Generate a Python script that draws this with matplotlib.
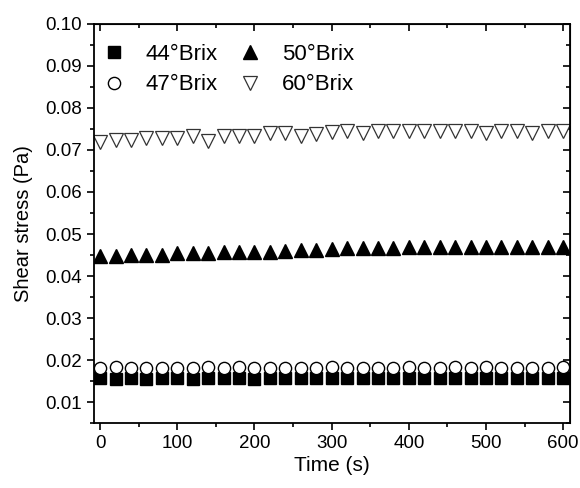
import numpy as np
import matplotlib
matplotlib.use("Agg")
import matplotlib.pyplot as plt
from matplotlib.ticker import MultipleLocator

plt.rcParams['font.family'] = ['Liberation Sans', 'DejaVu Sans']

# time points (s)
time = list(range(0, 601, 20))

# shear stress (Pa) per concentration
brix44 = [0.0157, 0.0156, 0.0157, 0.0156, 0.0157, 0.0157, 0.0156, 0.0158, 0.0157, 0.0157,
          0.0156, 0.0157, 0.0158, 0.0157, 0.0157, 0.0158, 0.0157, 0.0157, 0.0158, 0.0157,
          0.0158, 0.0157, 0.0157, 0.0158, 0.0157, 0.0158, 0.0157, 0.0157, 0.0158, 0.0158,
          0.0157]
brix47 = [0.0181, 0.0183, 0.0181, 0.0181, 0.0181, 0.0182, 0.0181, 0.0183, 0.0181, 0.0183,
          0.0181, 0.0181, 0.0182, 0.0181, 0.0182, 0.0183, 0.0181, 0.0181, 0.0182, 0.0181,
          0.0183, 0.0181, 0.0181, 0.0183, 0.0181, 0.0183, 0.0182, 0.0181, 0.0182, 0.0182,
          0.0183]
brix50 = [0.0448, 0.0448, 0.0450, 0.0450, 0.0451, 0.0454, 0.0454, 0.0454, 0.0458, 0.0458,
          0.0458, 0.0458, 0.0459, 0.0462, 0.0462, 0.0464, 0.0466, 0.0466, 0.0467, 0.0467,
          0.0469, 0.0469, 0.0469, 0.0470, 0.0470, 0.0470, 0.0470, 0.0470, 0.0470, 0.0470,
          0.0470]
brix60 = [0.0719, 0.0724, 0.0724, 0.0729, 0.0729, 0.0729, 0.0733, 0.0722, 0.0733, 0.0733,
          0.0733, 0.0740, 0.0740, 0.0733, 0.0738, 0.0743, 0.0745, 0.0740, 0.0745, 0.0745,
          0.0745, 0.0745, 0.0745, 0.0745, 0.0745, 0.0740, 0.0745, 0.0745, 0.0740, 0.0745,
          0.0745]

fig = plt.figure(figsize=(5.8, 4.88), dpi=100)
ax = fig.add_axes([0.162, 0.133, 0.821, 0.818])

ax.plot(time, brix44, 's', color='black', markersize=8.3, label='44°Brix')
ax.plot(time, brix47, 'o', markerfacecolor='white', markeredgecolor='black',
        markeredgewidth=1.0, markersize=8.8, label='47°Brix')
ax.plot(time, brix50, '^', color='black', markersize=10, label='50°Brix')
ax.plot(time, brix60, 'v', markerfacecolor='white', markeredgecolor='#333333',
        markeredgewidth=0.9, markersize=10, label='60°Brix')

ax.set_xlim(-8, 609)
ax.set_ylim(0.005, 0.10)
ax.xaxis.set_major_locator(MultipleLocator(100))
ax.xaxis.set_minor_locator(MultipleLocator(50))
ax.yaxis.set_major_locator(MultipleLocator(0.01))
ax.yaxis.set_minor_locator(MultipleLocator(0.005))
ax.yaxis.set_major_formatter(plt.FormatStrFormatter('%.2f'))

ax.tick_params(which='both', direction='out', labelsize=13.5, width=1.2)
ax.tick_params(which='major', length=5)
ax.tick_params(which='minor', length=3)

# inward ticks on top and right
top = ax.secondary_xaxis('top')
top.xaxis.set_major_locator(MultipleLocator(100))
top.xaxis.set_minor_locator(MultipleLocator(50))
top.tick_params(which='both', direction='in', labeltop=False, width=1.2)
top.tick_params(which='major', length=5)
top.tick_params(which='minor', length=3)
right = ax.secondary_yaxis('right')
right.yaxis.set_major_locator(MultipleLocator(0.01))
right.yaxis.set_minor_locator(MultipleLocator(0.005))
right.tick_params(which='both', direction='in', labelright=False, width=1.2)
right.tick_params(which='major', length=5)
right.tick_params(which='minor', length=3)

for s in ax.spines.values():
    s.set_linewidth(1.3)

ax.set_xlabel('Time (s)', fontsize=15, labelpad=3)
ax.set_ylabel('Shear stress (Pa)', fontsize=14.5, labelpad=9)

ax.legend(loc='upper left', bbox_to_anchor=(0.005, 0.972), ncol=2, frameon=False,
          fontsize=16, numpoints=1, handlelength=0.75, handletextpad=1.05,
          columnspacing=1.1, labelspacing=0.42, borderaxespad=0.0)

fig.savefig('out.png', dpi=100)
